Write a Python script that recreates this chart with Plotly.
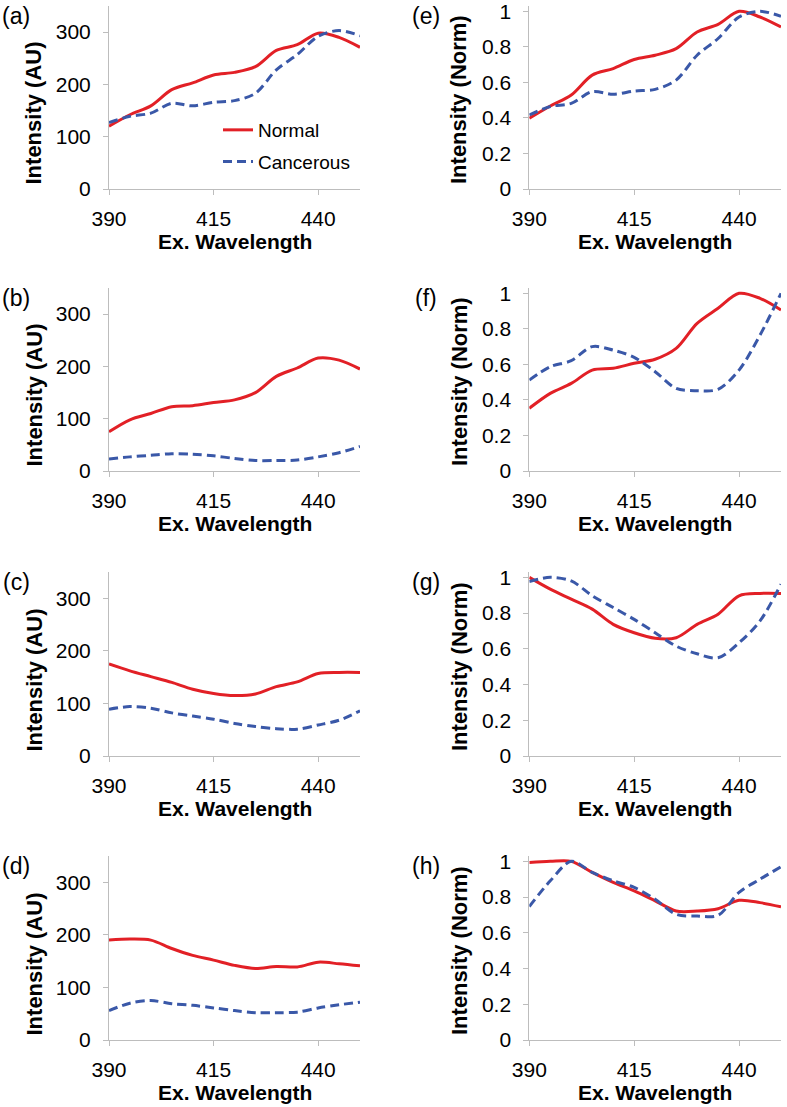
import plotly.graph_objects as go

# ---------------- data ----------------
wavelength = [390, 395, 400, 405, 410, 415, 420, 425, 430, 435, 440, 445, 450]

# (a) raw intensity, sample 1
a_normal    = [120, 142, 159, 190, 203, 218, 223, 234, 265, 276, 298, 290, 271]
a_cancerous = [127, 139, 145, 164, 159, 166, 169, 183, 228, 257, 292, 303, 293]
# (b) raw intensity, sample 2
b_normal    = [75, 98, 110, 123, 125, 131, 136, 150, 181, 197, 216, 212, 195]
b_cancerous = [23, 27, 30, 33, 32, 29, 24, 20, 20, 21, 27, 35, 47]
# (c) raw intensity, sample 3
c_normal    = [175, 162, 151, 140, 127, 119, 115, 118, 132, 141, 157, 159, 159]
c_cancerous = [89, 94, 91, 82, 76, 70, 62, 56, 52, 51, 59, 68, 86]
# (d) raw intensity, sample 4
d_normal    = [190, 192, 190, 174, 161, 152, 142, 136, 140, 139, 148, 145, 141]
d_cancerous = [56, 70, 75, 69, 66, 61, 56, 52, 52, 53, 61, 67, 72]

# (e) normalised, sample 1
e_normal    = [0.398, 0.467, 0.529, 0.641, 0.678, 0.729, 0.753, 0.790, 0.884, 0.927, 1.0, 0.968, 0.912]
e_cancerous = [0.417, 0.464, 0.482, 0.548, 0.533, 0.551, 0.561, 0.613, 0.753, 0.847, 0.968, 1.0, 0.972]
# (f) normalised, sample 2
f_normal    = [0.353, 0.437, 0.493, 0.568, 0.578, 0.606, 0.629, 0.690, 0.831, 0.916, 1.0, 0.972, 0.906]
f_cancerous = [0.512, 0.587, 0.621, 0.700, 0.680, 0.640, 0.559, 0.465, 0.452, 0.460, 0.568, 0.765, 1.0]
# (g) normalised, sample 3
g_normal    = [1.0, 0.934, 0.878, 0.822, 0.737, 0.690, 0.659, 0.662, 0.737, 0.794, 0.897, 0.910, 0.910]
g_cancerous = [0.976, 1.0, 0.980, 0.897, 0.831, 0.765, 0.690, 0.615, 0.572, 0.550, 0.634, 0.756, 0.962]
# (h) normalised, sample 4
h_normal    = [0.994, 1.0, 1.0, 0.938, 0.882, 0.835, 0.779, 0.722, 0.722, 0.735, 0.782, 0.769, 0.745]
h_cancerous = [0.747, 0.891, 1.0, 0.938, 0.891, 0.854, 0.788, 0.704, 0.694, 0.698, 0.826, 0.900, 0.970]

x_ticks = [390, 415, 440]
au_ticks = [0, 100, 200, 300]
norm_ticks = [0, 0.2, 0.4, 0.6, 0.8, 1]

series_names = ["Normal", "Cancerous"]
panel_labels = ["(a)", "(b)", "(c)", "(d)", "(e)", "(f)", "(g)", "(h)"]
x_title = "Ex. Wavelength"
y_title_au = "Intensity (AU)"
y_title_norm = "Intensity (Norm)"

# ---------------- styling / layout ----------------
W, H = 787, 1107
FONT = "Liberation Sans, Arial, Helvetica, sans-serif"
RED = "rgb(226,32,38)"
BLUE = "rgb(58,88,168)"
AXIS_GREY = "#BDBDBD"

rows_px = [(6, 189), (288, 471), (572, 756), (856, 1040)]
cols_px = [(109, 360), (529.3, 781)]


def fx(p):
    return p / W


def fy(p):
    return 1 - p / H


panels = [
    (0, 0, a_normal, a_cancerous),
    (0, 1, b_normal, b_cancerous),
    (0, 2, c_normal, c_cancerous),
    (0, 3, d_normal, d_cancerous),
    (1, 0, e_normal, e_cancerous),
    (1, 1, f_normal, f_cancerous),
    (1, 2, g_normal, g_cancerous),
    (1, 3, h_normal, h_cancerous),
]

fig = go.Figure()
layout = {}
annotations = []

for i, (col, row, normal, cancer) in enumerate(panels):
    n = i + 1
    xa = "x" if n == 1 else f"x{n}"
    ya = "y" if n == 1 else f"y{n}"
    xkey = "xaxis" if n == 1 else f"xaxis{n}"
    ykey = "yaxis" if n == 1 else f"yaxis{n}"
    first = (n == 1)

    fig.add_trace(go.Scatter(
        x=wavelength, y=normal, mode="lines", name=series_names[0],
        line=dict(color=RED, width=3, shape="spline", smoothing=0.9),
        xaxis=xa, yaxis=ya, showlegend=first, legendgroup="n",
        hoverinfo="skip"))
    fig.add_trace(go.Scatter(
        x=wavelength, y=cancer, mode="lines", name=series_names[1],
        line=dict(color=BLUE, width=3, dash="9px,5px", shape="spline", smoothing=0.9),
        xaxis=xa, yaxis=ya, showlegend=first, legendgroup="c",
        hoverinfo="skip"))

    c0, c1 = cols_px[col]
    r0, r1 = rows_px[row]
    is_norm = col == 1

    layout[xkey] = dict(
        domain=[fx(c0), fx(c1)], anchor=ya, range=[390, 450],
        tickvals=x_ticks, ticks="outside", ticklen=5, tickcolor=AXIS_GREY,
        showline=True, linecolor=AXIS_GREY, linewidth=1,
        showgrid=False, zeroline=False, automargin=False, fixedrange=True,
        tickfont=dict(family=FONT, size=21, color="black"),
        ticklabelstandoff=6, ticklabeloverflow="allow",
    )
    layout[ykey] = dict(
        domain=[fy(r1), fy(r0)], anchor=xa,
        range=[0, 1.03] if is_norm else [0, 350],
        tickvals=norm_ticks if is_norm else au_ticks,
        ticks="outside", ticklen=5, tickcolor=AXIS_GREY,
        showline=True, linecolor=AXIS_GREY, linewidth=1,
        showgrid=False, zeroline=False, automargin=False, fixedrange=True,
        tickfont=dict(family=FONT, size=21, color="black"),
        ticklabelstandoff=8, ticklabeloverflow="allow",
    )

    # x axis title
    annotations.append(dict(
        text=f"<b>{x_title}</b>", xref="paper", yref="paper",
        x=fx((c0 + c1) / 2), y=fy(r1 + 52.5), xanchor="center", yanchor="middle",
        showarrow=False, font=dict(family=FONT, size=21, color="black")))
    # y axis title
    if is_norm:
        ytx, yty, ytt = 459, r1 - 89, y_title_norm
    else:
        ytx, yty, ytt = 33.5, r1 - 76, y_title_au
    annotations.append(dict(
        text=f"<b>{ytt}</b>", xref="paper", yref="paper", textangle=-90,
        x=fx(ytx), y=fy(yty), xanchor="center", yanchor="middle",
        showarrow=False, font=dict(family=FONT, size=22, color="black")))
    # panel label
    annotations.append(dict(
        text=panel_labels[i], xref="paper", yref="paper",
        x=fx(16 if col == 0 else 426), y=fy(r0 + 10), xanchor="center", yanchor="middle",
        showarrow=False, font=dict(family=FONT, size=23, color="black")))

fig.update_layout(
    width=W, height=H,
    margin=dict(l=0, r=0, t=0, b=0),
    paper_bgcolor="white", plot_bgcolor="white",
    annotations=annotations,
    showlegend=True,
    hovermode=False,
    legend=dict(
        x=fx(218), y=fy(111), xanchor="left", yanchor="top",
        bgcolor="rgba(0,0,0,0)", font=dict(family=FONT, size=19, color="black"),
        traceorder="grouped", tracegroupgap=4,
    ),
    **layout,
)

fig.write_html("out.html", config={"displayModeBar": False},
               post_script="document.body.style.margin='0';")
